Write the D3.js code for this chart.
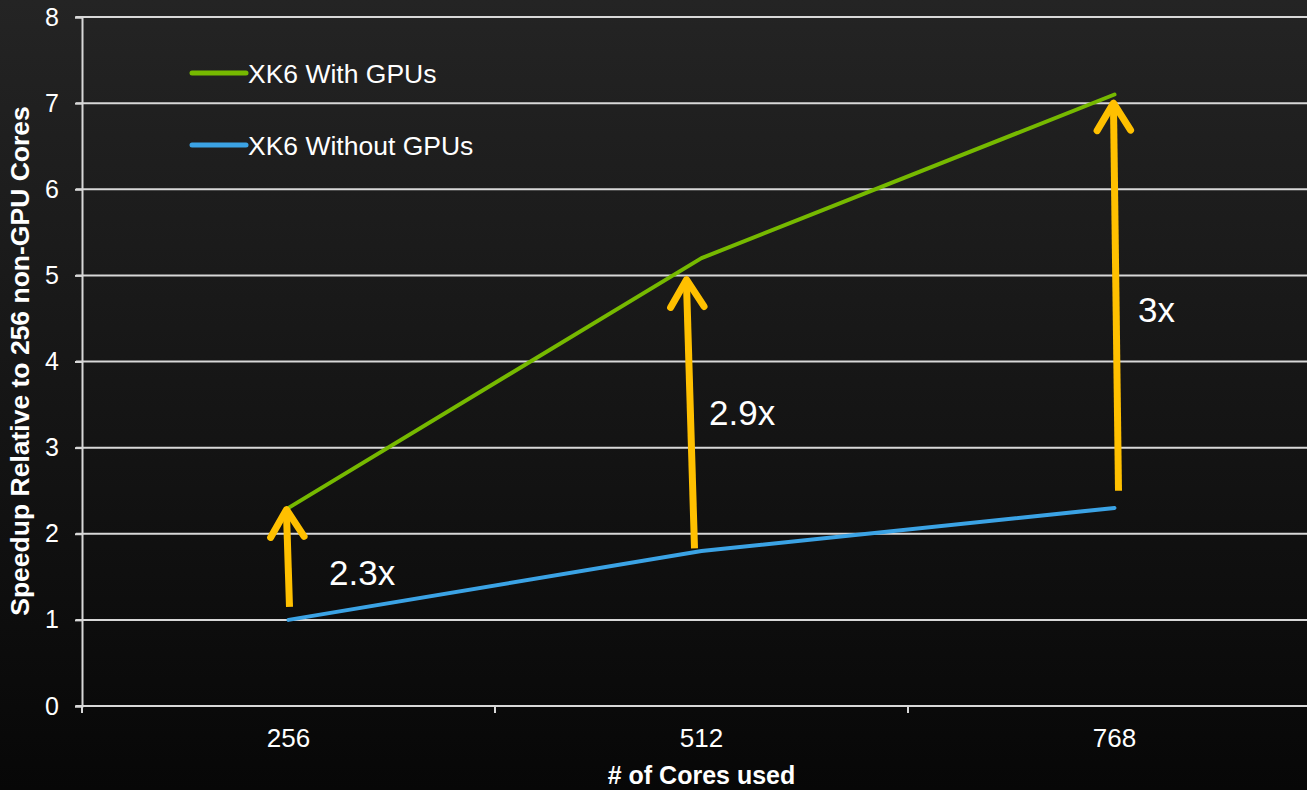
<!DOCTYPE html>
<html><head><meta charset="utf-8">
<script src="https://cdn.jsdelivr.net/npm/d3@7"></script>
<style>html,body{margin:0;padding:0;background:#111;}svg{display:block;}</style>
</head><body>
<script>
const categories = ["256", "512", "768"];
const withGPUs = [2.3, 5.2, 7.1];
const withoutGPUs = [1.0, 1.8, 2.3];
const yTicks = [0, 1, 2, 3, 4, 5, 6, 7, 8];
const seriesNames = ["XK6 With GPUs", "XK6 Without GPUs"];
const arrowFrom = [1.15, 1.83, 2.5];
const arrowTo = [2.28, 4.95, 7.0];
const arrowLabels = ["2.3x", "2.9x", "3x"];

const W = 1307, H = 790;
const FONT = "Liberation Sans, Arial, sans-serif";
const svg = d3.select("body").append("svg").attr("width", W).attr("height", H);
const defs = svg.append("defs");
const grad = defs.append("linearGradient").attr("id","bg").attr("x1",0).attr("y1",0).attr("x2",0).attr("y2",1);
grad.append("stop").attr("offset","0%").attr("stop-color","#242424");
grad.append("stop").attr("offset","100%").attr("stop-color","#070707");
svg.append("rect").attr("width",W).attr("height",H).attr("fill","url(#bg)");

const x = d3.scaleBand().domain(categories).range([82, 1321]);
const y = d3.scaleLinear().domain([0, 8]).range([706, 17]);
const cx = c => x(c) + x.bandwidth()/2;

// gridlines
svg.append("g").selectAll("line").data(yTicks.filter(d=>d>0)).join("line")
  .attr("x1", 76).attr("x2", W).attr("y1", d=>y(d)).attr("y2", d=>y(d))
  .attr("stroke", "#d8d8d8").attr("stroke-width", 2);

// y axis
const yAxis = svg.append("g").attr("transform","translate(82,0)")
  .call(d3.axisLeft(y).tickValues(yTicks).tickSize(7).tickPadding(16).tickFormat(d3.format("d")));
yAxis.attr("font-size", null).attr("font-family", null);
yAxis.select(".domain").attr("stroke","#d8d8d8").attr("stroke-width",2);
yAxis.selectAll(".tick line").attr("stroke","#d8d8d8").attr("stroke-width",2);
yAxis.selectAll("text").attr("fill","#fff").style("font-family",FONT).style("font-size","25px");

// x axis
const xAxis = svg.append("g").attr("transform","translate(0,706)")
  .call(d3.axisBottom(x).tickSize(0).tickPadding(23));
xAxis.attr("font-size", null).attr("font-family", null);
xAxis.select(".domain").attr("stroke","#d8d8d8").attr("stroke-width",2).attr("d","M76,0H1321");
xAxis.selectAll("text").attr("fill","#fff").style("font-family",FONT).style("font-size","26px");
// x band boundary ticks
svg.append("g").selectAll("line").data(categories).join("line")
  .attr("x1", d=>x(d)).attr("x2", d=>x(d)).attr("y1", 706).attr("y2", 713)
  .attr("stroke","#d8d8d8").attr("stroke-width",2);

// axis titles
svg.append("text").attr("x", cx(categories[1])).attr("y", 784).attr("text-anchor","middle")
  .attr("fill","#fff").style("font-family",FONT).style("font-weight","bold").style("font-size","25px")
  .text("# of Cores used");
svg.append("text").attr("transform","translate(29,361) rotate(-90)").attr("text-anchor","middle")
  .attr("fill","#fff").style("font-family",FONT).style("font-weight","bold").style("font-size","26.5px")
  .text("Speedup Relative to 256 non-GPU Cores");

// lines
const line = d3.line().x((d,i)=>cx(categories[i])).y(d=>y(d));
const colors = ["#76B900", "#3BA3E5"];
[withGPUs, withoutGPUs].forEach((s, k) => {
  svg.append("path").datum(s).attr("d", line).attr("fill","none")
    .attr("stroke", colors[k]).attr("stroke-width", 4).attr("stroke-linecap","round").attr("stroke-linejoin","round");
});

// legend
seriesNames.forEach((n, k) => {
  const ly = 73 + k*72;
  svg.append("line").attr("x1",192).attr("x2",246).attr("y1",ly).attr("y2",ly)
    .attr("stroke",colors[k]).attr("stroke-width",5).attr("stroke-linecap","round");
  svg.append("text").attr("x",248).attr("y",ly+9.5).attr("fill","#fff")
    .style("font-family",FONT).style("font-size","26.5px").text(n);
});

// arrows
const arrowCol = "#FFC000";
const dxBottom = [1, -7, 4], dxTop = [-2, -15, -1];
categories.forEach((c, i) => {
  const x0 = cx(c) + dxBottom[i], y0 = y(arrowFrom[i]);
  const x1 = cx(c) + dxTop[i], y1 = y(arrowTo[i]);
  const g = svg.append("g");
  g.append("line").attr("x1",x0).attr("y1",y0).attr("x2",x1).attr("y2",y1+4)
    .attr("stroke",arrowCol).attr("stroke-width",7);
  const ang = Math.atan2(y1-y0, x1-x0);
  const L = 32, spread = 0.55;
  const p1 = [x1 - L*Math.cos(ang - spread), y1 - L*Math.sin(ang - spread)];
  const p2 = [x1 - L*Math.cos(ang + spread), y1 - L*Math.sin(ang + spread)];
  g.append("path").attr("d", `M${p1}L${x1},${y1}L${p2}`).attr("fill","none")
    .attr("stroke",arrowCol).attr("stroke-width",7).attr("stroke-linecap","round").attr("stroke-linejoin","round");
});
const labelDX = [40.5, 7.5, 23.5], labelV = [1.405, 3.263, 4.459];
categories.forEach((c, i) => {
  svg.append("text").attr("x", cx(c) + labelDX[i]).attr("y", y(labelV[i]))
    .attr("fill","#fff").style("font-family",FONT).style("font-size","35px")
    .text(arrowLabels[i]);
});
</script>
</body></html>
